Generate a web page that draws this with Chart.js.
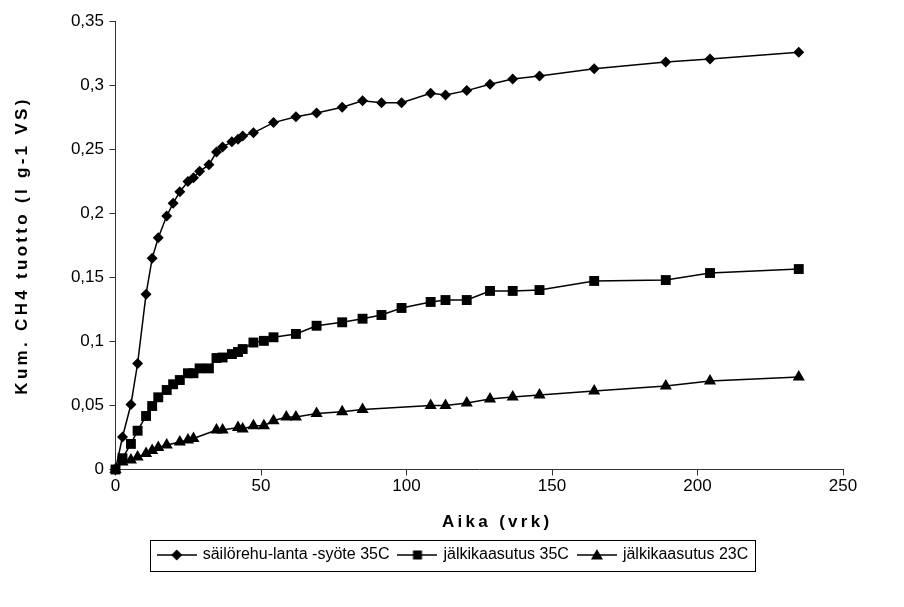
<!DOCTYPE html>
<html>
<head>
<meta charset="utf-8">
<script src="https://cdn.jsdelivr.net/npm/chart.js@4.4.1/dist/chart.umd.min.js"></script>
<style>
  html, body { margin: 0; padding: 0; background: #fff; }
  #wrap { width: 904px; height: 607px; }
</style>
</head>
<body>
<div id="wrap"><canvas id="ch4_chart"></canvas></div>
<script>
// sampling days (vrk), shared by all three series
const days = [0, 2.4, 5.3, 7.6, 10.5, 12.6, 14.7, 17.6, 19.8, 22.1, 24.9, 26.8, 28.9, 32.1,
  34.7, 36.8, 40, 42.1, 43.7, 47.4, 51, 54.3, 58.7, 62, 69.1, 77.9, 84.9, 91.4, 98.3,
  108.3, 113.4, 120.7, 128.7, 136.5, 145.7, 164.5, 189.1, 204.3, 234.8];

// cumulative CH4 yield (l g-1 VS), null = no measurement that day
const silageManure35 = [0, 0.0254, 0.0508, 0.0828, 0.137, 0.165, 0.181, 0.198, 0.208, 0.217,
  0.225, 0.228, 0.233, 0.238, 0.248, 0.252, 0.256, 0.258, 0.2605, 0.263, null, 0.271, null,
  0.2756, 0.2785, 0.283, 0.288, 0.2865, 0.2865, 0.294, 0.2926, 0.296, 0.301, 0.305, 0.3074,
  0.313, 0.3184, 0.3207, 0.326];
const postDigest35 = [0, 0.0088, 0.02, 0.0303, 0.0418, 0.0496, 0.0564, 0.0621, 0.0666, 0.0699,
  0.0752, 0.0752, 0.079, 0.079, 0.0871, 0.0875, 0.0902, 0.0918, 0.0941, 0.0992, 0.1005,
  0.1033, null, 0.1059, 0.1123, 0.115, 0.1178, 0.1207, 0.1262, 0.1309, 0.1324, 0.1324,
  0.1395, 0.1395, 0.1402, 0.1473, 0.148, 0.1535, 0.1566];
const postDigest23 = [0, 0.0059, 0.0074, 0.0098, 0.0125, 0.0148, 0.0172, 0.0191, null, 0.0215,
  0.023, 0.0242, null, null, 0.0309, 0.0309, null, 0.0328, 0.0316, 0.0342, 0.0342, 0.0381,
  0.041, 0.041, 0.0437, 0.0452, 0.0469, null, null, 0.05, 0.05, 0.052, 0.055, 0.0566,
  0.0582, 0.0613, 0.0652, 0.0691, 0.0723];

const seriesNames = ["säilörehu-lanta -syöte 35C", "jälkikaasutus 35C", "jälkikaasutus 23C"];
const markers = ["rectRot", "rect", "triangle"];
const markerSizes = [5.5, 7, 7];

const xMax = 250, xStep = 50;
const yMax = 0.35, yStep = 0.05;
const xTitle = "Aika (vrk)";
const yTitle = "Kum. CH4 tuotto (l g-1 VS)";

const FONT = 'Arial, "Liberation Sans", sans-serif';

const toPoints = (vals) => days.map((d, i) => ({ x: d, y: vals[i] }));

// small line + marker pictures for the legend, like the spreadsheet legend
const legendIcon = (style) => {
  const c = document.createElement("canvas");
  c.width = 40;
  c.height = 14;
  const ctx = c.getContext("2d");
  ctx.strokeStyle = "#000";
  ctx.fillStyle = "#000";
  ctx.lineWidth = 1.5;
  ctx.beginPath();
  ctx.moveTo(0, 7);
  ctx.lineTo(40, 7);
  ctx.stroke();
  ctx.beginPath();
  if (style === "rectRot") {
    ctx.moveTo(20, 1.5);
    ctx.lineTo(25.5, 7);
    ctx.lineTo(20, 12.5);
    ctx.lineTo(14.5, 7);
  } else if (style === "rect") {
    ctx.rect(15.5, 2.5, 9, 9);
  } else {
    ctx.moveTo(20, 1);
    ctx.lineTo(26, 11.5);
    ctx.lineTo(14, 11.5);
  }
  ctx.closePath();
  ctx.fill();
  return c;
};
const icons = markers.map(legendIcon);

// frame round the legend row
const legendFrame = {
  id: "legendFrame",
  afterDraw(chart) {
    const boxes = chart.legend && chart.legend.legendHitBoxes;
    if (!boxes || !boxes.length) return;
    const first = boxes[0];
    const last = boxes[boxes.length - 1];
    const left = Math.round(first.left - 9) + 0.5;
    const right = Math.round(last.left + last.width + 7) + 0.5;
    const top = Math.round(first.top - 7) + 0.5;
    const ctx = chart.ctx;
    ctx.save();
    ctx.strokeStyle = "#000";
    ctx.lineWidth = 1;
    ctx.strokeRect(left, top, right - left, 31);
    ctx.restore();
  },
};

// the spreadsheet titles are drawn with wide letter spacing,
// and the x title sits a bit right of the plot centre
const spacedTitles = {
  id: "spacedTitles",
  afterLayout(chart) {
    Object.values(chart.scales).forEach((scale) => {
      if (scale._spacedPatch) return;
      const orig = scale.drawTitle;
      scale.drawTitle = function () {
        const ctx = this.ctx;
        const prev = ctx.letterSpacing;
        ctx.save();
        if (this.isHorizontal()) ctx.translate(18, 0);
        if (prev !== undefined) ctx.letterSpacing = "3.3px";
        orig.apply(this, arguments);
        if (prev !== undefined) ctx.letterSpacing = prev;
        ctx.restore();
      };
      scale._spacedPatch = true;
    });
  },
};

const fmtTick = (v) => parseFloat(v.toFixed(2)).toString().replace(".", ",");

const datasets = [silageManure35, postDigest35, postDigest23].map((vals, i) => ({
  label: seriesNames[i],
  data: toPoints(vals),
  borderColor: "#000",
  backgroundColor: "#000",
  borderWidth: 1.5,
  pointStyle: markers[i],
  pointRadius: markerSizes[i],
  pointHoverRadius: markerSizes[i],
  pointBackgroundColor: "#000",
  pointBorderColor: "#000",
  pointBorderWidth: 0,
  tension: 0,
  fill: false,
  spanGaps: true,
  clip: false,
}));

const config = {
  type: "line",
  data: { datasets: datasets },
  options: {
    responsive: true,
    maintainAspectRatio: false,
    animation: false,
    events: [],
    layout: { padding: { left: 3, right: 0, top: 21.5, bottom: 34 } },
    scales: {
      x: {
        type: "linear",
        min: 0,
        max: xMax,
        afterFit: (scale) => { scale.height = 67.5; },
        ticks: { stepSize: xStep, color: "#000", padding: 1, font: { family: FONT, size: 17 } },
        grid: { display: true, drawOnChartArea: false, drawTicks: true, tickLength: 6, color: "#333" },
        border: { display: true, color: "#333", width: 1 },
        title: {
          display: true,
          text: xTitle,
          color: "#000",
          font: { family: FONT, size: 17, weight: "bold" },
          padding: { top: 0, bottom: 4.8 },
        },
      },
      y: {
        type: "linear",
        min: 0,
        max: yMax,
        afterFit: (scale) => { scale.width = 112.5; },
        ticks: { stepSize: yStep, color: "#000", padding: 5.5, font: { family: FONT, size: 17 }, callback: fmtTick },
        grid: { display: true, drawOnChartArea: false, drawTicks: true, tickLength: 6, color: "#333" },
        border: { display: true, color: "#333", width: 1 },
        title: {
          display: true,
          text: yTitle,
          color: "#000",
          font: { family: FONT, size: 17, weight: "bold" },
          padding: { top: 9, bottom: 0 },
        },
      },
      // empty right-hand margin, so the legend can centre on the whole picture
      spacer: {
        type: "linear",
        position: "right",
        display: true,
        afterFit: (scale) => { scale.width = 61; },
        ticks: { display: false },
        grid: { display: false },
        border: { display: false },
      },
    },
    plugins: {
      tooltip: { enabled: false },
      legend: {
        position: "bottom",
        labels: {
          color: "#000",
          font: { family: FONT, size: 16 },
          usePointStyle: true,
          pointStyleWidth: 36,
          padding: 10,
          generateLabels: (chart) =>
            Chart.defaults.plugins.legend.labels.generateLabels(chart).map((item, i) => ({
              ...item,
              pointStyle: icons[i],
              lineWidth: 0,
            })),
        },
      },
    },
  },
  plugins: [legendFrame, spacedTitles],
};

const myChart = new Chart(document.getElementById("ch4_chart"), config);
</script>
</body>
</html>
